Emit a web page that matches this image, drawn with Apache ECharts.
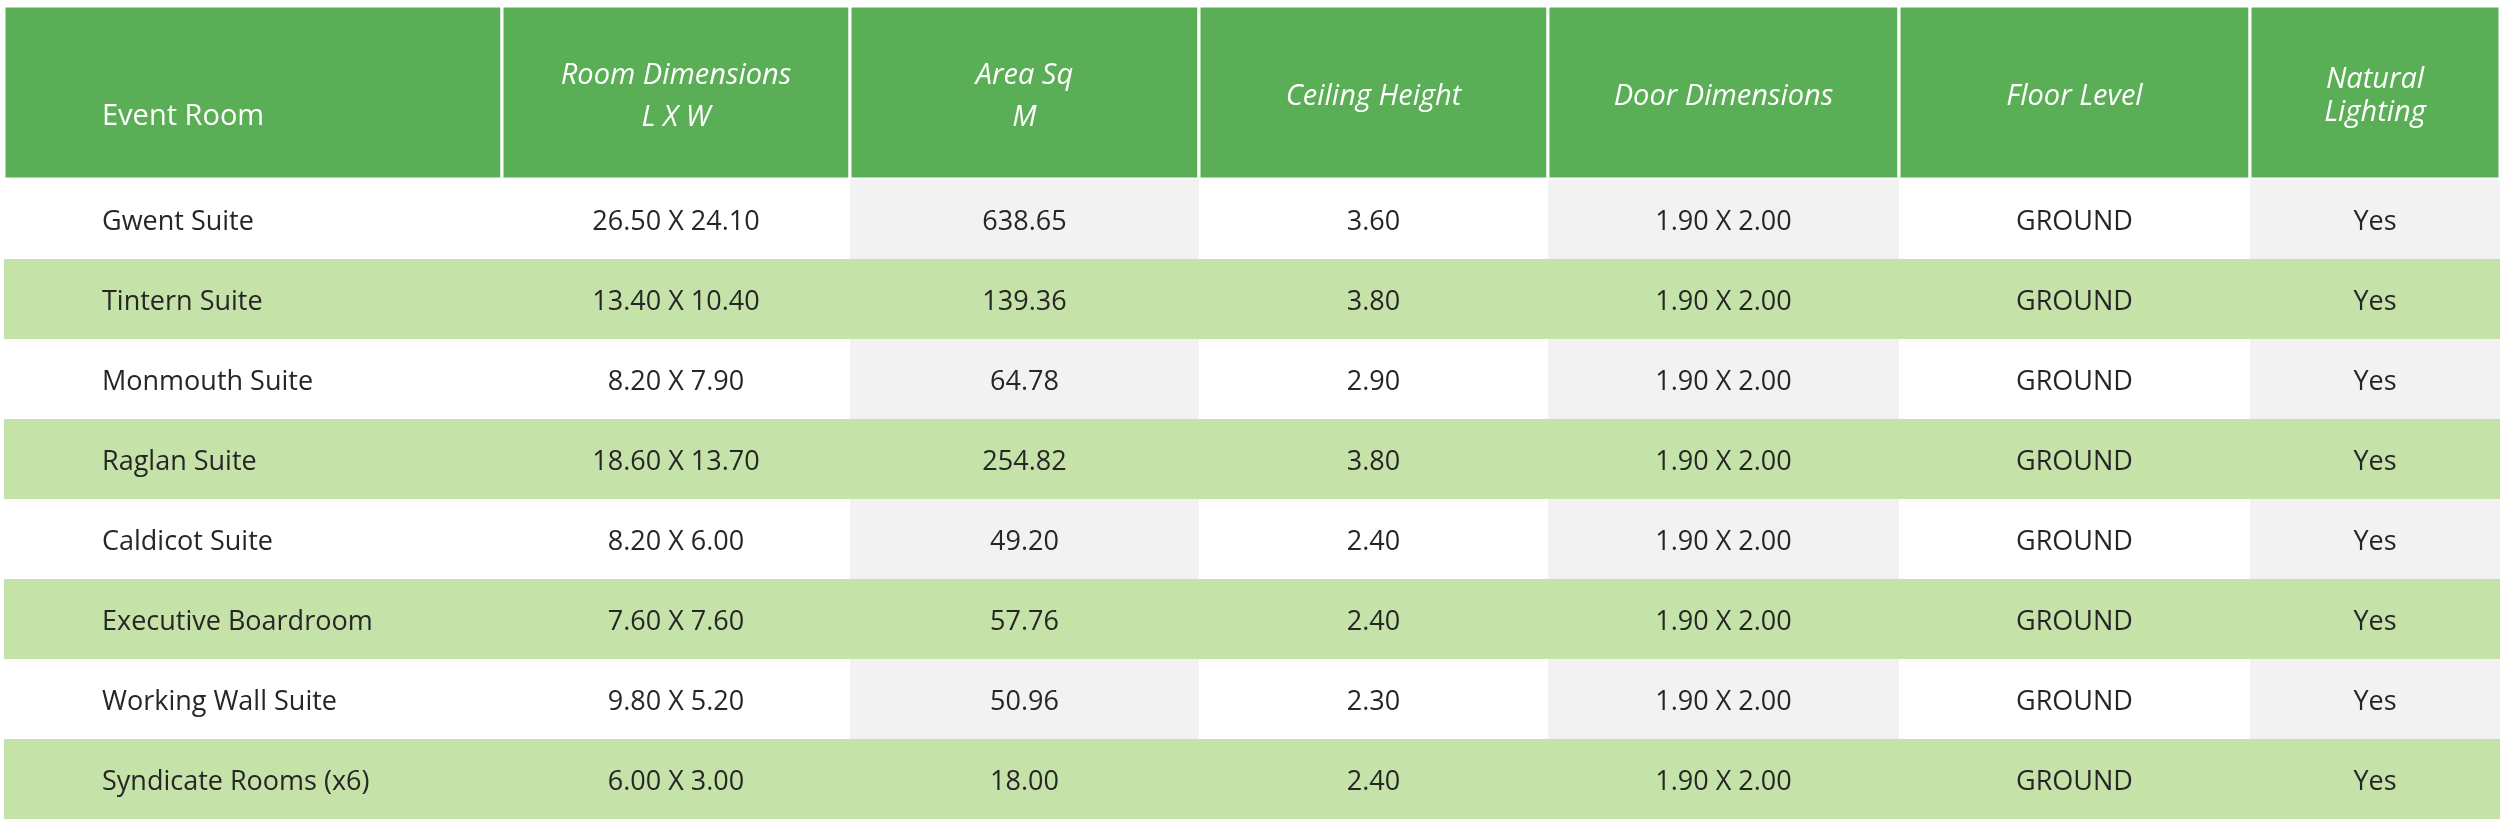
<!DOCTYPE html>
<html>
<head>
<meta charset="utf-8">
<script src="https://cdn.jsdelivr.net/npm/echarts@6/dist/echarts.min.js"></script>
<style>
  html, body { margin: 0; padding: 0; background: #fff; }
  #chart { width: 2500px; height: 825px; }
</style>
</head>
<body>
<div id="chart"></div>
<script>
var headers = ['Event Room', 'Room Dimensions\nL X W', 'Area Sq\nM', 'Ceiling Height', 'Door Dimensions', 'Floor Level', 'Natural\nLighting'];
var rooms = ['Gwent Suite', 'Tintern Suite', 'Monmouth Suite', 'Raglan Suite', 'Caldicot Suite', 'Executive Boardroom', 'Working Wall Suite', 'Syndicate Rooms (x6)'];
var roomDims = ['26.50 X 24.10', '13.40 X 10.40', '8.20 X 7.90', '18.60 X 13.70', '8.20 X 6.00', '7.60 X 7.60', '9.80 X 5.20', '6.00 X 3.00'];
var areas = [638.65, 139.36, 64.78, 254.82, 49.20, 57.76, 50.96, 18.00];
var ceilings = [3.60, 3.80, 2.90, 3.80, 2.40, 2.40, 2.30, 2.40];
var doorDims = ['1.90 X 2.00', '1.90 X 2.00', '1.90 X 2.00', '1.90 X 2.00', '1.90 X 2.00', '1.90 X 2.00', '1.90 X 2.00', '1.90 X 2.00'];
var floorLevels = ['GROUND', 'GROUND', 'GROUND', 'GROUND', 'GROUND', 'GROUND', 'GROUND', 'GROUND'];
var naturalLighting = ['Yes', 'Yes', 'Yes', 'Yes', 'Yes', 'Yes', 'Yes', 'Yes'];

// layout only
var colWidths = [498, 348, 349, 349, 351, 351, 250];
var headerLineHeight = [42, 42, 42, 42, 42, 42, 33];
var headerDy = [20, 0, 0, 0, 0, 0, 0];
var textPadLeft = 98;

var colEdges = [0];
colWidths.forEach(function (w, i) { colEdges.push(colEdges[i] + w); });
var totalWidth = colEdges[colEdges.length - 1];

var green = '#5aae55', lightGreen = '#c5e2a8', grey = '#f2f2f2', ink = '#262626';
var font = '"Open Sans", "Noto Sans", sans-serif';

var bodyRows = rooms.map(function (name, r) {
  return [name, roomDims[r], areas[r].toFixed(2), ceilings[r].toFixed(2), doorDims[r], floorLevels[r], naturalLighting[r]];
});

var headerCells = headers.map(function (t, c) { return [colEdges[c], 0, colEdges[c + 1], c]; });
var bodyCells = [];
var bodyTexts = [];
bodyRows.forEach(function (row, r) {
  row.forEach(function (t, c) {
    bodyCells.push([colEdges[c], r, colEdges[c + 1], c]);
    bodyTexts.push(t);
  });
});

function cellBox(api) {
  var start = api.coord([api.value(0), api.value(1)]);
  var end = api.coord([api.value(2), api.value(1)]);
  var h = api.size([0, 1])[1];
  return { x: start[0], y: start[1] - h / 2, width: end[0] - start[0], height: h };
}

function renderHeader(params, api) {
  var b = cellBox(api);
  var c = api.value(3);
  return {
    type: 'group',
    children: [
      { type: 'rect', shape: b, style: { fill: green, stroke: '#fff', lineWidth: 3 } },
      { type: 'text', x: c === 0 ? b.x + textPadLeft : b.x + b.width / 2, y: b.y + b.height / 2 + 4 + headerDy[c],
        style: { text: headers[c], fill: '#fff', align: c === 0 ? 'left' : 'center', verticalAlign: 'middle',
          fontFamily: font, fontSize: 29, fontStyle: c === 0 ? 'normal' : 'italic', lineHeight: headerLineHeight[c] } }
    ]
  };
}

function renderBody(params, api) {
  var b = cellBox(api);
  var r = api.value(1), c = api.value(3);
  var fill = r % 2 === 1 ? lightGreen : (c % 2 === 0 && c > 0 ? grey : '#fff');
  return {
    type: 'group',
    children: [
      { type: 'rect', shape: b, style: { fill: fill } },
      { type: 'text', x: c === 0 ? b.x + textPadLeft : b.x + b.width / 2, y: b.y + b.height / 2 + 3,
        style: { text: bodyTexts[params.dataIndex], fill: ink, align: c === 0 ? 'left' : 'center', verticalAlign: 'middle',
          fontFamily: font, fontSize: 27 } }
    ]
  };
}

var chart = echarts.init(document.getElementById('chart'), null, { renderer: 'canvas' });
chart.setOption({
  animation: false,
  grid: [
    { left: 4, right: 0, top: 6, height: 173 },
    { left: 4, right: 0, top: 179, height: 640 }
  ],
  xAxis: [
    { type: 'value', gridIndex: 0, min: 0, max: totalWidth, show: false },
    { type: 'value', gridIndex: 1, min: 0, max: totalWidth, show: false }
  ],
  yAxis: [
    { type: 'category', gridIndex: 0, data: ['header'], show: false },
    { type: 'category', gridIndex: 1, data: rooms, inverse: true, show: false }
  ],
  series: [
    { type: 'custom', xAxisIndex: 0, yAxisIndex: 0, data: headerCells, renderItem: renderHeader, silent: true },
    { type: 'custom', xAxisIndex: 1, yAxisIndex: 1, data: bodyCells, renderItem: renderBody, silent: true }
  ]
});
window.addEventListener('resize', function () { chart.resize(); });
</script>
</body>
</html>
